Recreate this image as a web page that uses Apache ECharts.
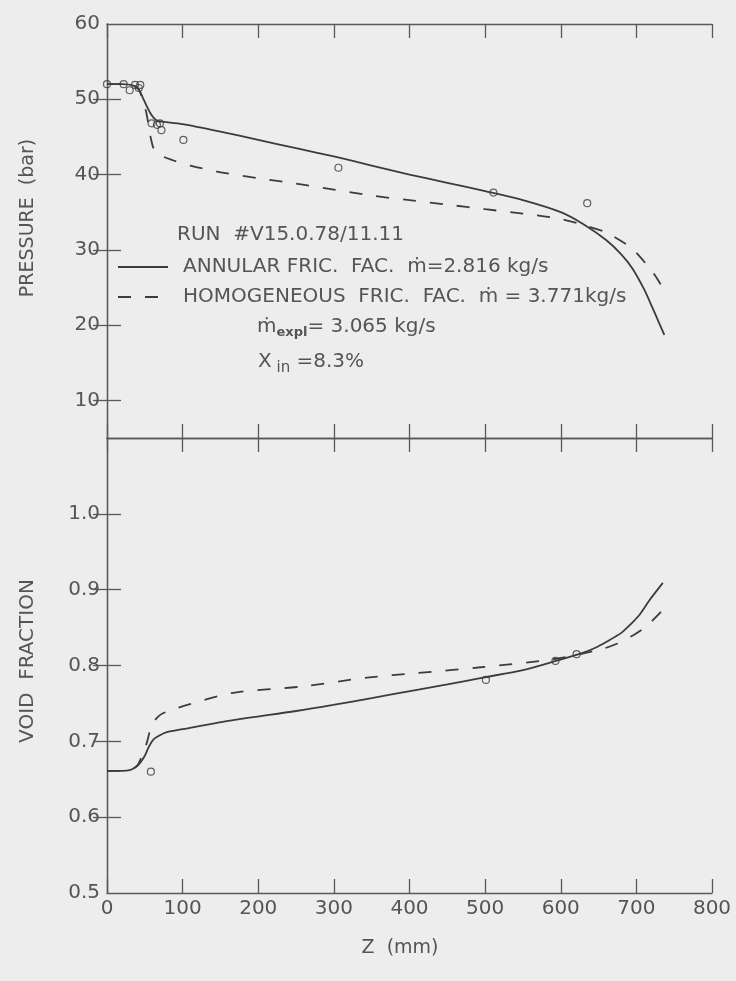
<!DOCTYPE html>
<html>
<head>
<meta charset="utf-8">
<script src="https://cdn.jsdelivr.net/npm/echarts@6/dist/echarts.min.js"></script>
<style>
  html, body { margin: 0; padding: 0; background: #ededed; }
  #chart { width: 736px; height: 981px; }
</style>
</head>
<body>
<div id="chart"></div>
<script>
// Z positions (mm) and values

// pressure, annular friction factor (solid)
var zAnnP = [0, 20, 35, 42, 47, 52, 57, 62, 68, 75, 100, 150, 200, 250, 300, 350, 400, 450, 500, 550, 600, 630, 660, 680, 695, 710, 720, 730, 737];
var pAnn = [52.0, 52.0, 51.8, 51.3, 50.3, 49.2, 48.2, 47.5, 47.1, 47.0, 46.7, 45.7, 44.6, 43.5, 42.4, 41.2, 40.0, 38.9, 37.8, 36.6, 35.0, 33.4, 31.3, 29.4, 27.5, 24.8, 22.6, 20.3, 18.7];

// pressure, homogeneous friction factor (dashed)
var zHomP = [0, 20, 35, 42, 47, 52, 55, 58, 62, 70, 87, 110, 145, 200, 250, 300, 350, 400, 450, 500, 550, 600, 630, 660, 690, 700, 714, 722, 731, 737];
var pHom = [52.0, 52.0, 51.8, 51.3, 50.0, 48.2, 46.5, 44.8, 43.4, 42.6, 41.9, 41.2, 40.4, 39.5, 38.8, 38.0, 37.2, 36.6, 36.0, 35.4, 34.8, 34.1, 33.3, 32.3, 30.5, 29.6, 28.0, 27.0, 25.6, 24.4];

// measured pressure
var zExpP = [0, 22, 30, 37, 42, 44, 59, 66, 70, 72, 101, 306, 511, 635];
var pExp = [52.0, 52.0, 51.2, 51.9, 51.5, 51.9, 46.8, 46.6, 46.8, 45.9, 44.6, 40.9, 37.6, 36.2];

// void fraction, annular (solid)
var zAnnA = [0, 20, 30, 38, 44, 50, 55, 61, 70, 79, 100, 167, 250, 299, 350, 410, 450, 497, 550, 590, 630, 645, 660, 680, 692, 705, 718, 735];
var aAnn = [0.661, 0.661, 0.662, 0.666, 0.672, 0.681, 0.692, 0.702, 0.708, 0.712, 0.716, 0.728, 0.740, 0.748, 0.757, 0.768, 0.775, 0.784, 0.794, 0.805, 0.817, 0.823, 0.831, 0.843, 0.854, 0.868, 0.887, 0.909];

// void fraction, homogeneous (dashed)
var zHomA = [0, 20, 30, 40, 45, 50, 54, 57, 62, 68, 74, 90, 106, 167, 255, 344, 410, 497, 595, 652, 675, 696, 710, 718, 728, 738];
var aHom = [0.661, 0.661, 0.662, 0.668, 0.678, 0.690, 0.703, 0.715, 0.726, 0.733, 0.737, 0.743, 0.748, 0.764, 0.772, 0.784, 0.790, 0.798, 0.809, 0.821, 0.829, 0.840, 0.849, 0.856, 0.866, 0.877];

// measured void fraction
var zExpA = [58, 501, 593, 621];
var aExp = [0.660, 0.781, 0.806, 0.815];

var pTicks = [10, 20, 30, 40, 50];
var pLabels = [10, 20, 30, 40, 50, 60];
var aTicks = [0.6, 0.7, 0.8, 0.9, 1.0];
var aLabels = [0.5, 0.6, 0.7, 0.8, 0.9, 1.0];

var nameAnn = 'ANNULAR FRIC.  FAC.  ṁ=2.816 kg/s';
var nameHom = 'HOMOGENEOUS  FRIC.  FAC.  ṁ = 3.771kg/s';

function pairs(xs, ys) {
    var out = [];
    for (var i = 0; i < xs.length; i++) out.push([xs[i], ys[i]]);
    return out;
}

var ink = '#3c3c3c';
var txt = '#555555';
var font = 'DejaVu Sans';

var axisLine = { show: true, lineStyle: { color: '#5a5a5a', width: 1.3 } };

function xAx(grid, pos, labels) {
    return {
        type: 'value', gridIndex: grid, position: pos, min: 0, max: 800, interval: 100,
        axisLine: axisLine,
        axisTick: { show: true, inside: true, length: 14, lineStyle: { color: '#5a5a5a', width: 1.3 } },
        axisLabel: { show: labels, color: txt, fontSize: 20, fontFamily: font, margin: 6 },
        splitLine: { show: false }
    };
}

function yAx(grid, pos, min, max, ticks, labels, fmt) {
    return {
        type: 'value', gridIndex: grid, position: pos, min: min, max: max,
        axisLine: axisLine,
        axisTick: { show: true, inside: true, length: 14, customValues: ticks, lineStyle: { color: '#5a5a5a', width: 1.3 } },
        axisLabel: labels ? { show: true, customValues: labels, color: txt, fontSize: 20, fontFamily: font, margin: 7, formatter: fmt } : { show: false },
        splitLine: { show: false }
    };
}

var option = {
    backgroundColor: '#ededed',
    animation: false,
    grid: [
        { left: 107, right: 24, top: 24, height: 414 },
        { left: 107, right: 24, top: 438, height: 455 }
    ],
    xAxis: [
        xAx(0, 'top', false),
        xAx(0, 'bottom', false),
        xAx(1, 'top', false),
        xAx(1, 'bottom', true)
    ],
    yAxis: [
        yAx(0, 'left', 5, 60, pTicks, pLabels, function (v) { return String(v); }),
        yAx(0, 'right', 5, 60, pTicks, null),
        yAx(1, 'left', 0.5, 1.1, aTicks, aLabels, function (v) { return v.toFixed(1); }),
        yAx(1, 'right', 0.5, 1.1, aTicks, null)
    ],
    legend: {
        orient: 'vertical',
        left: 117,
        top: 257,
        padding: 0,
        itemWidth: 50,
        itemHeight: 14,
        itemGap: 10,
        data: [nameAnn, nameHom],
        itemStyle: { color: 'transparent', borderWidth: 0 },
        textStyle: { color: txt, fontSize: 20, fontFamily: font, padding: [0, 0, 0, 10] }
    },
    graphic: [
        { type: 'text', x: 177, y: 235, style: { text: 'RUN  #V15.0.78/11.11', fill: txt, font: '20px "DejaVu Sans"', textVerticalAlign: 'middle' } },
        {
            type: 'text', x: 257, y: 327,
            style: {
                text: 'ṁ{sub|expl}= 3.065 kg/s', fill: txt, font: '20px "DejaVu Sans"', textVerticalAlign: 'middle',
                rich: { sub: { fontSize: 13, fontWeight: 'bold', fontFamily: font, fill: txt, padding: [12, 0, 0, 0] } }
            }
        },
        {
            type: 'text', x: 258, y: 362,
            style: {
                text: 'X{sub| in} =8.3%', fill: txt, font: '20px "DejaVu Sans"', textVerticalAlign: 'middle',
                rich: { sub: { fontSize: 15, fontFamily: font, fill: txt, padding: [12, 0, 0, 0] } }
            }
        },
        { type: 'text', x: 28, y: 218, rotation: Math.PI / 2, style: { text: 'PRESSURE  (bar)', fill: txt, font: '19px "DejaVu Sans"', textAlign: 'center', textVerticalAlign: 'middle' } },
        { type: 'text', x: 28, y: 661, rotation: Math.PI / 2, style: { text: 'VOID  FRACTION', fill: txt, font: '20px "DejaVu Sans"', textAlign: 'center', textVerticalAlign: 'middle' } },
        { type: 'text', x: 400, y: 948, style: { text: 'Z  (mm)', fill: txt, font: '19px "DejaVu Sans"', textAlign: 'center', textVerticalAlign: 'middle' } }
    ],
    series: [
        {
            name: nameAnn, type: 'line', xAxisIndex: 1, yAxisIndex: 0, symbol: 'none',
            smooth: 0.3,
            lineStyle: { color: ink, width: 1.8 }, itemStyle: { color: ink },
            data: pairs(zAnnP, pAnn)
        },
        {
            name: nameHom, type: 'line', xAxisIndex: 1, yAxisIndex: 0, symbol: 'none',
            smooth: 0.3,
            lineStyle: { color: ink, width: 1.8, type: [13, 14] }, itemStyle: { color: ink },
            data: pairs(zHomP, pHom)
        },
        {
            name: 'expP', type: 'scatter', xAxisIndex: 1, yAxisIndex: 0,
            symbol: 'circle', symbolSize: 7,
            itemStyle: { color: 'rgba(0,0,0,0)', borderColor: ink, borderWidth: 1.2 },
            data: pairs(zExpP, pExp)
        },
        {
            name: 'annA', type: 'line', xAxisIndex: 3, yAxisIndex: 2, symbol: 'none',
            smooth: 0.3,
            lineStyle: { color: ink, width: 1.8 },
            data: pairs(zAnnA, aAnn)
        },
        {
            name: 'homA', type: 'line', xAxisIndex: 3, yAxisIndex: 2, symbol: 'none',
            smooth: 0.3,
            lineStyle: { color: ink, width: 1.8, type: [13, 14] },
            data: pairs(zHomA, aHom)
        },
        {
            name: 'expA', type: 'scatter', xAxisIndex: 3, yAxisIndex: 2,
            symbol: 'circle', symbolSize: 7,
            itemStyle: { color: 'rgba(0,0,0,0)', borderColor: ink, borderWidth: 1.2 },
            data: pairs(zExpA, aExp)
        }
    ]
};

var myChart = echarts.init(document.getElementById('chart'));
myChart.setOption(option);

window.addEventListener('resize', function () {
    myChart.resize();
});
</script>
</body>
</html>
